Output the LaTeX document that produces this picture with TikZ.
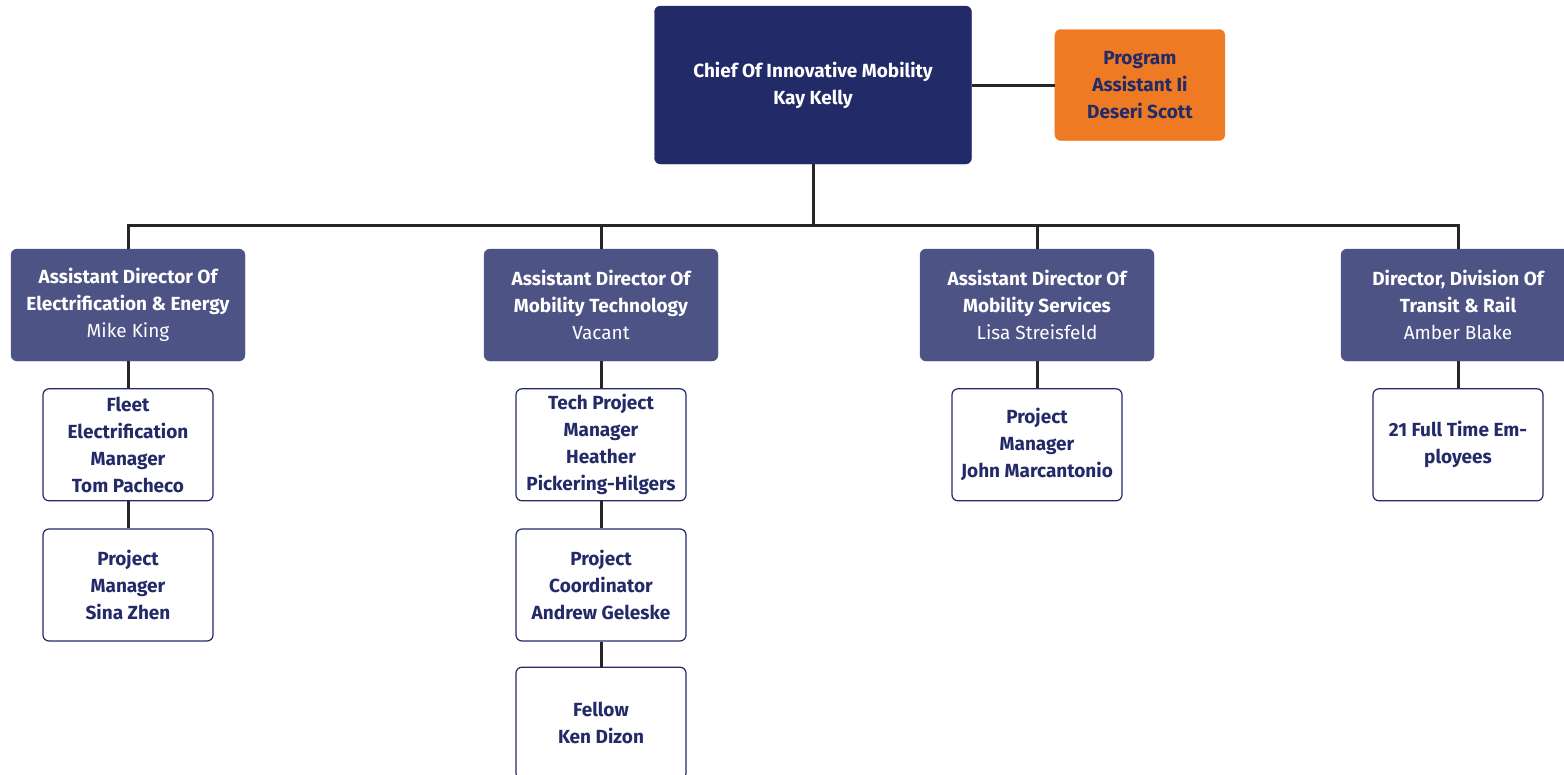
\documentclass[tikz,border=0pt]{standalone}
\usepackage{fontspec}
\setmainfont{Fira Sans}
\usetikzlibrary{positioning}

\definecolor{navy}{HTML}{222A68}
\definecolor{slate}{HTML}{4D5385}
\definecolor{tangerine}{HTML}{EE7A23}

\begin{document}
\begin{tikzpicture}[
    x=1pt, y=-1pt,
    node distance=27pt,
    every node/.style={
        font=\fontsize{19}{27}\selectfont,
        align=center,
        rounded corners=6pt,
        inner sep=0pt
    },
    chiefbox/.style={
        fill=navy,
        draw=navy,
        text=white,
        minimum width=317pt,
        minimum height=158pt
    },
    assistbox/.style={
        fill=tangerine,
        draw=tangerine,
        text=navy,
        minimum width=170pt,
        minimum height=111pt
    },
    dirbox/.style={
        fill=slate,
        draw=navy!80,
        text=white,
        minimum width=234pt,
        minimum height=112pt
    },
    staffbox/.style={
        fill=white,
        draw=navy,
        line width=1.2pt,
        text=navy,
        minimum width=170pt,
        minimum height=112pt
    },
    link/.style={
        draw=black!85,
        line width=3pt
    }
]
\clip (0,0) rectangle (1564,774);

% Top
\node[chiefbox] (chief) at (813,85) {\bfseries Chief Of Innovative Mobility\\\bfseries Kay Kelly};
\node[assistbox, right=83pt of chief] (assistant) {\bfseries Program\\\bfseries Assistant Ii\\\bfseries Deseri Scott};

% Directors
\node[dirbox] (ad1) at (128,305) {\bfseries Assistant Director Of\\\bfseries Electrification \& Energy\\Mike King};
\node[dirbox] (ad2) at (601,305) {\bfseries Assistant Director Of\\\bfseries Mobility Technology\\Vacant};
\node[dirbox] (ad3) at (1037,305) {\bfseries Assistant Director Of\\\bfseries Mobility Services\\Lisa Streisfeld};
\node[dirbox] (ad4) at (1458,305) {\bfseries Director, Division Of\\\bfseries Transit \& Rail\\Amber Blake};

% Staff
\node[staffbox, below=of ad1] (fleet) {\bfseries Fleet\\\bfseries Electrification\\\bfseries Manager\\\bfseries Tom Pacheco};
\node[staffbox, below=of fleet] (pm1) {\bfseries Project\\\bfseries Manager\\\bfseries Sina Zhen};
\node[staffbox, below=of ad2] (techpm) {\bfseries Tech Project\\\bfseries Manager\\\bfseries Heather\\\bfseries Pickering-Hilgers};
\node[staffbox, below=of techpm] (coord) {\bfseries Project\\\bfseries Coordinator\\\bfseries Andrew Geleske};
\node[staffbox, below=25pt of coord] (fellow) {\bfseries Fellow\\\bfseries Ken Dizon};
\node[staffbox, below=of ad3] (pm2) {\bfseries Project\\\bfseries Manager\\\bfseries John Marcantonio};
\node[staffbox, below=of ad4] (fte) {\bfseries 21 Full Time Em-\\\bfseries ployees};

% Connections
\coordinate (bus) at (813,225);
\draw[link] (chief) -- (assistant);
\draw[link] (chief) -- (bus);
\draw[link] (ad1.north) |- (bus) -| (ad4.north);
\draw[link] (ad2.north) -- (ad2.north |- bus);
\draw[link] (ad3.north) -- (ad3.north |- bus);

\draw[link] (ad1) -- (fleet);
\draw[link] (fleet) -- (pm1);
\draw[link] (ad2) -- (techpm);
\draw[link] (techpm) -- (coord);
\draw[link] (coord) -- (fellow);
\draw[link] (ad3) -- (pm2);
\draw[link] (ad4) -- (fte);

\end{tikzpicture}
\end{document}
